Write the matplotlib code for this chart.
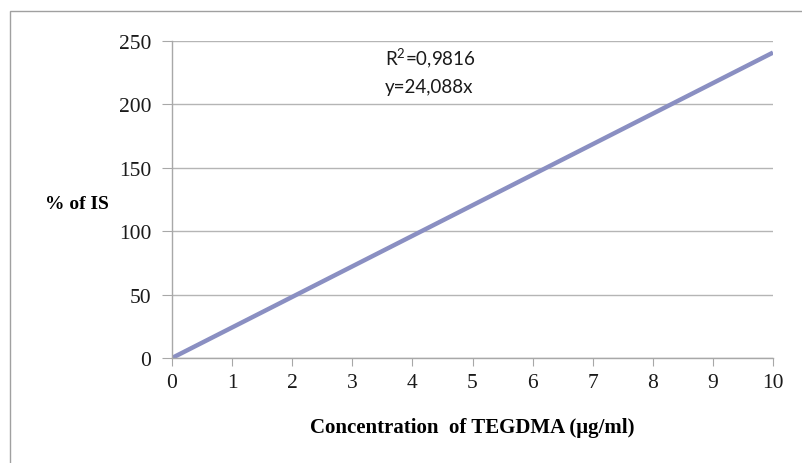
import matplotlib
matplotlib.use("Agg")
import matplotlib.pyplot as plt
from matplotlib.patches import Rectangle

plt.rcParams["mathtext.fontset"] = "custom"
plt.rcParams["mathtext.rm"] = "Lato"
plt.rcParams["mathtext.it"] = "Lato"

# calibration line for TEGDMA (trendline y = 24.088x)
conc = [0, 10]
pct_is = [0, 240.88]
x_ticks = [0, 1, 2, 3, 4, 5, 6, 7, 8, 9, 10]
y_ticks = [0, 50, 100, 150, 200, 250]
r2_text = r"R$^{\mathrm{2}}$=0,9816"
eq_text = "y=24,088x"

fig = plt.figure(figsize=(8.03, 4.64), dpi=100)
fig.patch.set_facecolor("white")

# outer chart border (left and top only visible in the crop)
fig.patches.append(Rectangle((10 / 803, -0.1), 1.2, 1.1 - 12 / 464,
                             transform=fig.transFigure, fill=False,
                             edgecolor="#a0a0a0", linewidth=1.0))

ax = fig.add_axes([172 / 803, 1 - 359 / 464, 601 / 803, 317 / 464])
ax.plot(conc, pct_is, color="#8a8fc2", linewidth=3.2, solid_capstyle="butt")

ax.set_xlim(0, 10)
ax.set_ylim(0, 250)
ax.set_xticks(x_ticks)
ax.set_yticks(y_ticks)
ax.grid(axis="y", color="#b5b5b5", linewidth=1.0)
ax.set_axisbelow(True)

for s in ["top", "right"]:
    ax.spines[s].set_visible(False)
for s in ["left", "bottom"]:
    ax.spines[s].set_color("#a8a8a8")
    ax.spines[s].set_linewidth(1.0)

ax.tick_params(axis="y", direction="out", length=7, color="#a8a8a8", pad=8)
ax.tick_params(axis="x", direction="out", length=6, color="#a8a8a8", pad=5)
for lab in ax.get_xticklabels() + ax.get_yticklabels():
    lab.set_fontfamily("Liberation Serif")
    lab.set_fontsize(15.5)
    lab.set_color("#1a1a1a")

ax.set_xlabel("Concentration  of TEGDMA (\u03bcg/ml)", fontfamily="Liberation Serif",
              fontweight="bold", fontsize=15, labelpad=18)
fig.text(45 / 803, 1 - 205 / 464, "% of IS", fontfamily="Liberation Serif",
         fontweight="bold", fontsize=14, va="center", ha="left")

ax.text(3.54, 237, r2_text, fontfamily="Lato", fontsize=13.5, va="center", ha="left",
        color="#1a1a1a")
ax.text(3.54, 214.5, eq_text, fontfamily="Lato", fontsize=13.5, va="center", ha="left",
        color="#1a1a1a")

fig.savefig("out.png", dpi=100)
